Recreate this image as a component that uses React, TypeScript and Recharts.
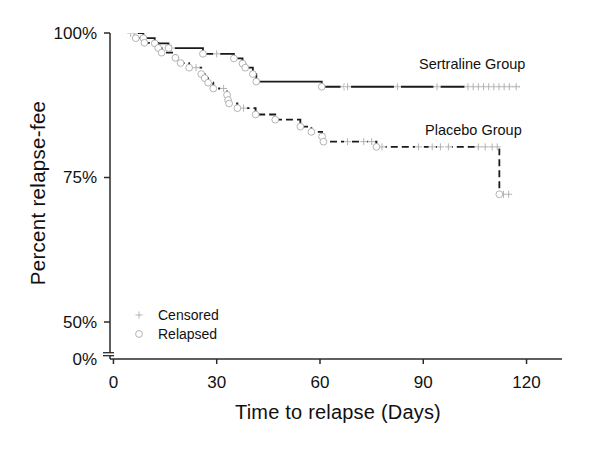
import React from 'react';
import { ComposedChart, Line, Scatter, XAxis, YAxis, Customized } from 'recharts';

// Kaplan-Meier steps (days, percent relapse-free)
const sertralineDays = [5, 8.7, 12, 16, 26, 35, 37.5, 38.3, 40.5, 41.5, 60.5, 118];
const sertralineSurvival = [100, 99.1, 98.2, 97.4, 96.4, 95.6, 94.7, 94.0, 92.9, 91.6, 90.7, 90.7];
const sertralineCensoredDays = [5, 6, 16.8, 30, 67, 68, 82.5, 94, 103, 104.5, 106, 107.5, 109, 110.5, 112, 113.5, 115, 117];

const placeboDays = [5, 6.5, 9, 13, 14, 18, 19.5, 22, 25.5, 26.5, 27.5, 29, 33, 33.3, 33.6, 36, 41.3, 47, 54.3, 57.5, 60.6, 61, 76.4, 112.1, 115];
const placeboSurvival = [100, 99.1, 98.3, 97.4, 96.6, 95.7, 94.8, 94.0, 92.9, 92.2, 91.4, 90.4, 89.3, 88.4, 87.8, 87.0, 85.9, 85.0, 83.8, 82.9, 82.1, 81.2, 80.3, 72.1, 72.1];
const placeboCensoredDays = [5, 6, 24, 32, 37.8, 68, 72.7, 75, 78, 88.6, 92.6, 95, 97.3, 106, 108, 110, 111.5, 113.3, 114.8];

const xTicks = [0, 30, 60, 90, 120];
const Y_ZERO = 43.6; // axis-break position standing for 0%
const yTicks = [Y_ZERO, 50, 75, 100];
const yTickLabels: Record<number, string> = { [Y_ZERO]: '0%', 50: '50%', 75: '75%', 100: '100%' };

const groupLabels = ['Sertraline Group', 'Placebo Group'];
const legendLabels = ['Censored', 'Relapsed'];
const xTitle = 'Time to relapse (Days)';
const yTitle = 'Percent relapse-fee';

const FONT = '"Liberation Sans", Arial, Helvetica, sans-serif';
const MARGIN = { top: 25, right: 38, bottom: 30, left: 40 };
const Y_WIDTH = 62;
const AXIS_X = MARGIN.left + Y_WIDTH;
const MARK = '#ababab';
const AXIS = '#2a2a2a';

const toSteps = (days: number[], surv: number[]) => days.map((t, i) => ({ t, p: surv[i] }));
const toRelapses = (days: number[], surv: number[]) =>
  days.slice(1, days.length - 1).map((t, i) => ({ t, p: surv[i + 1] }));
const levelAt = (days: number[], surv: number[], t: number) => {
  let v = surv[0];
  days.forEach((d, i) => { if (d <= t) v = surv[i]; });
  return v;
};
const toCensored = (cd: number[], days: number[], surv: number[]) =>
  cd.map((t) => ({ t, p: levelAt(days, surv, t) }));

const sertralineLine = toSteps(sertralineDays, sertralineSurvival);
const placeboLine = toSteps(placeboDays, placeboSurvival);
const relapsed = [...toRelapses(sertralineDays, sertralineSurvival), ...toRelapses(placeboDays, placeboSurvival)];
const censored = [
  ...toCensored(sertralineCensoredDays, sertralineDays, sertralineSurvival),
  ...toCensored(placeboCensoredDays, placeboDays, placeboSurvival),
];

const CensorShape = (props: any) => {
  const { cx, cy } = props;
  return (
    <g>
      <rect x={cx - 3.5} y={cy - 1.6} width={7} height={3.2} fill="#fff" />
      <line x1={cx - 3.5} x2={cx + 3.5} y1={cy} y2={cy} stroke={MARK} strokeWidth={0.9} />
      <line x1={cx} x2={cx} y1={cy - 3.5} y2={cy + 3.5} stroke={MARK} strokeWidth={0.9} />
    </g>
  );
};

const RelapseShape = (props: any) => {
  const { cx, cy } = props;
  return <circle cx={cx} cy={cy} r={3.4} fill="#fff" stroke={MARK} strokeWidth={0.9} />;
};

const YTick = (props: any) => {
  const { y, payload } = props;
  const v = payload.value;
  const label = yTickLabels[v] ?? `${v}%`;
  if (Math.abs(v - Y_ZERO) < 0.01) {
    return (
      <g>
        <rect x={AXIS_X - 2} y={y - 6.3} width={4} height={3} fill="#fff" />
        <line x1={AXIS_X - 7} x2={AXIS_X + 4} y1={y - 6.3} y2={y - 6.3} stroke={AXIS} strokeWidth={1.3} />
        <line x1={AXIS_X - 7} x2={AXIS_X + 4} y1={y - 3.3} y2={y - 3.3} stroke={AXIS} strokeWidth={1.3} />
        <text x={AXIS_X - 13} y={y} dy="0.35em" textAnchor="end" fontSize={17} fontFamily={FONT} fill="#111">{label}</text>
      </g>
    );
  }
  return (
    <g>
      <line x1={AXIS_X - 6} x2={AXIS_X} y1={y} y2={y} stroke={AXIS} strokeWidth={1.5} />
      <text x={AXIS_X - 13} y={y} dy="0.35em" textAnchor="end" fontSize={17} fontFamily={FONT} fill="#111">{label}</text>
    </g>
  );
};

const Annotations = () => (
  <g fontFamily={FONT} fill="#111">
    <text x={411} y={61} fontSize={14.5}>{groupLabels[0]}</text>
    <text x={417} y={127} fontSize={14.5}>{groupLabels[1]}</text>
    <line x1={127.5} x2={134.5} y1={307} y2={307} stroke={MARK} strokeWidth={0.9} />
    <line x1={131} x2={131} y1={303.5} y2={310.5} stroke={MARK} strokeWidth={0.9} />
    <circle cx={131} cy={326} r={3.4} fill="#fff" stroke={MARK} strokeWidth={0.9} />
    <text x={150} y={312} fontSize={14}>{legendLabels[0]}</text>
    <text x={150} y={331} fontSize={14}>{legendLabels[1]}</text>
    <text x={330} y={411} fontSize={20} letterSpacing={0.2} textAnchor="middle">{xTitle}</text>
    <text x={37} y={185} fontSize={20.5} letterSpacing={0.3} textAnchor="middle" transform="rotate(-90 37 185)">{yTitle}</text>
  </g>
);

export default function App() {
  return (
    <ComposedChart width={592} height={441} margin={MARGIN}>
      <XAxis
        dataKey="t"
        type="number"
        domain={[-1, 130.3]}
        ticks={xTicks}
        allowDataOverflow
        stroke={AXIS}
        strokeWidth={1.5}
        tickSize={5}
        tickMargin={12}
        height={60}
        tick={{ fontSize: 17, fontFamily: FONT, fill: '#111' }}
        tickLine={{ stroke: AXIS, strokeWidth: 1.5 }}
      />
      <YAxis
        dataKey="p"
        type="number"
        domain={[Y_ZERO, 100]}
        ticks={yTicks}
        allowDataOverflow
        width={Y_WIDTH}
        stroke={AXIS}
        strokeWidth={1.5}
        tickLine={false}
        tick={<YTick />}
        interval={0}
      />
      <Line data={placeboLine} dataKey="p" type="stepAfter" stroke="#1a1a1a" strokeWidth={1.8}
        strokeDasharray="7 4" dot={false} activeDot={false} isAnimationActive={false} />
      <Line data={sertralineLine} dataKey="p" type="stepAfter" stroke="#1a1a1a" strokeWidth={1.8}
        dot={false} activeDot={false} isAnimationActive={false} />
      <Scatter data={censored} dataKey="p" shape={<CensorShape />} isAnimationActive={false} />
      <Scatter data={relapsed} dataKey="p" shape={<RelapseShape />} isAnimationActive={false} />
      <Customized component={Annotations} />
    </ComposedChart>
  );
}
